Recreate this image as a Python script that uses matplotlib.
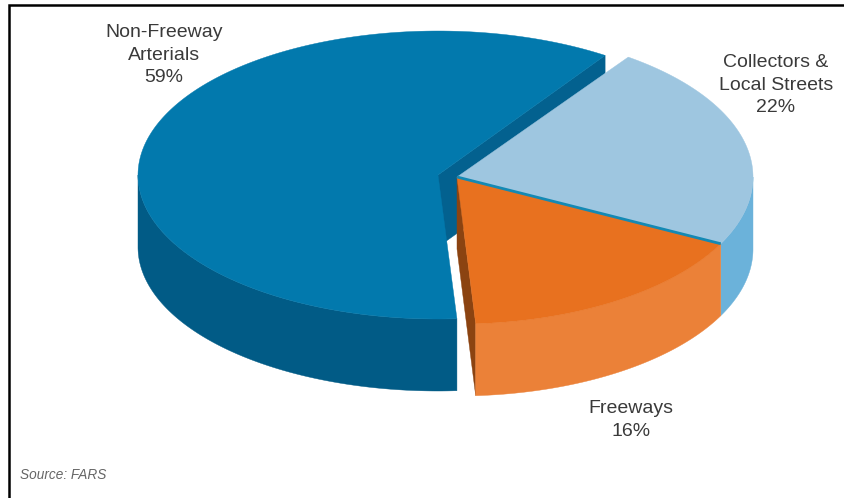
import numpy as np
import matplotlib
matplotlib.use("Agg")
import matplotlib.pyplot as plt
from matplotlib.patches import Polygon

categories = ["Non-Freeway\nArterials", "Collectors &\nLocal Streets", "Freeways"]
shares = [59, 22, 16]
labels = ["59%", "22%", "16%"]
source = "Source: FARS"

plt.rcParams["font.family"] = ["Liberation Sans", "DejaVu Sans"]
W, H = 845, 498
fig = plt.figure(figsize=(W / 100, H / 100), dpi=100)
ax = fig.add_axes([0, 0, 1, 1])
ax.set_xlim(0, W)
ax.set_ylim(H, 0)
ax.axis("off")

# slice angles come from the values (ellipse-parameter degrees, counter-clockwise)
total = sum(shares)
span = [s / total * 360 for s in shares]
start = -27
gap = 1.5
a_light = (start, start + span[1])
a_orange = (start - span[2], start)
a_blue = (a_light[1] + gap, a_orange[0] + 360)

depth = 72
styles = {
    "blue": dict(c=(438, 175), r=(300, 144), top="#0279AD", side="#015B86", cut="#03618F"),
    "light": dict(c=(457, 177), r=(296, 147), top="#9EC6E0", side="#6BB2DA", cut="#6BB2DA"),
    "orange": dict(c=(457, 177), r=(296, 147), top="#E8711F", side="#EB8138", cut="#8B4311"),
}


def arc(st, a0, a1, n=200):
    t = np.radians(np.linspace(a0, a1, n))
    return np.column_stack([st["c"][0] + st["r"][0] * np.cos(t), st["c"][1] - st["r"][1] * np.sin(t)])


def top(st, a0, a1, z):
    pts = np.vstack([[st["c"]], arc(st, a0, a1)])
    ax.add_patch(Polygon(pts, closed=True, fc=st["top"], ec=st["top"], lw=0.3, zorder=z))


def side(st, a0, a1, z):
    p = arc(st, a0, a1)
    q = p[::-1] + [0, depth]
    ax.add_patch(Polygon(np.vstack([p, q]), closed=True, fc=st["side"], ec=st["side"], lw=0.3, zorder=z))


def cut(st, a, z):
    e = arc(st, a, a, 1)[0]
    c = np.array(st["c"], float)
    pts = [c, e, e + [0, depth], c + [0, depth]]
    ax.add_patch(Polygon(pts, closed=True, fc=st["cut"], ec=st["cut"], lw=0.3, zorder=z))


b, l, o = styles["blue"], styles["light"], styles["orange"]
side(b, 180, a_blue[1], 1)
cut(b, a_blue[0], 2)
top(b, a_blue[0], a_blue[1], 3)
side(l, a_light[0], 0, 4)
top(l, a_light[0], a_light[1], 5)
cut(o, a_orange[0], 6)
side(o, a_orange[0], a_orange[1], 7)
top(o, a_orange[0], a_orange[1], 8)
edge = arc(o, start, start, 1)[0]
ax.plot([o["c"][0], edge[0]], [o["c"][1], edge[1]], color="#1489B4", lw=2, zorder=9, solid_capstyle="butt")

txt = dict(ha="center", va="center", color="#3a3a3a", fontsize=14, linespacing=1.4, zorder=10)
ax.text(164, 55, categories[0] + "\n" + labels[0], **txt)
ax.text(776, 85, categories[1] + "\n" + labels[1], **txt)
ax.text(631, 420, categories[2] + "\n" + labels[2], **txt)
ax.text(20, 475, source, ha="left", va="center", style="italic", color="#666666", fontsize=9.8)

# frame: only the top and left rules are present
ax.plot([845, 9, 9], [5, 5, 498], color="black", lw=1.8, zorder=11, solid_joinstyle="miter")
fig.savefig("out.png", dpi=100)
